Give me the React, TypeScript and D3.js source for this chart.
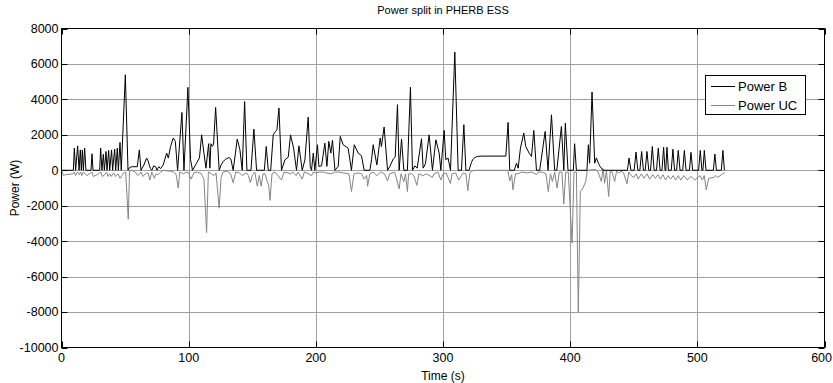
import * as d3 from 'd3';

// time (s), power (W)
const powerB: [number, number][] = [
  [0, 0], [9.3, 0], [10.1, 1250], [11.1, 0], [12.7, 1380], [13.8, 0], [14.8, 1150], [15.6, 0], [16.4, 1150], [17.2, 0],
  [18.2, 1250], [19.2, 0], [23.2, 0], [24, 930], [24.8, 0], [30, 0], [30.8, 1250], [31.8, 0], [32.9, 900], [33.7, 0],
  [35, 1060], [35.8, 0], [37.1, 1120], [37.9, 0], [39.4, 1150], [40.2, 0], [41.8, 1200], [42.6, 0], [43.9, 1250], [44.7, 0],
  [46, 1570], [47, 0], [50.2, 5390], [52.3, 0], [53.5, 150], [55.2, 200], [59.6, 200], [61.2, 1150], [62.5, 0], [64.8, 300],
  [66.9, 690], [68, 550], [69, 300], [70, 100], [71, 0], [72.5, 250], [74, 200], [75, 0], [76.5, 200], [78, 100],
  [80, 300], [82.7, 970], [84, 690], [85.8, 1350], [87.9, 1820], [89.5, 1630], [91.3, 0], [94.7, 3260], [96.3, 0], [99.4, 4680],
  [101.5, 600], [103, 0], [106.2, 400], [108.5, 700], [110.2, 2000], [112, 970], [113.6, 120], [115.7, 1500], [116.7, 120], [117.5, 1500],
  [118.6, 1350], [119.6, 1480], [121.2, 3550], [124, 0], [125.5, 300], [127.2, 500], [129, 620], [131.6, 720], [133.2, 630], [135, 0],
  [138.2, 1760], [140.3, 1160], [142.1, 0], [144, 3880], [145.8, 0], [149, 0], [151.3, 2320], [153.4, 0], [159.5, 0], [161, 1340],
  [162.6, 0], [164.5, 0], [166.5, 2000], [168.3, 2190], [169.4, 2290], [171, 3510], [173, 0], [175.7, 590], [178.3, 740], [180.1, 2000],
  [182.5, 1250], [184.8, 0], [186.7, 1380], [189.3, 0], [191.4, 590], [194, 3000], [195.6, 220], [196.6, 0], [198, 970], [199.2, 0],
  [201.3, 1440], [202.4, 220], [204.5, 250], [207.1, 1530], [208.7, 220], [210.2, 1630], [211.8, 970], [213.1, 1690], [215, 0], [217.6, 220],
  [219.2, 1910], [221.5, 1440], [225.4, 1250], [228, 0], [230.2, 1440], [233.3, 970], [235.9, 820], [238, 0], [242.5, 0], [243.8, 590],
  [245.1, 1440], [248, 300], [250.6, 1820], [251.6, 1340], [253.7, 2440], [256.4, 0], [258.2, 220], [260.8, 630], [262.4, 740], [264.2, 3700],
  [265.5, 0], [267.4, 1760], [269.2, 0], [272, 0], [274.4, 4690], [276, 0], [277.9, 250], [279.7, 120], [283.1, 1780], [284.4, 120],
  [286.2, 370], [289.1, 2000], [291.7, 0], [294.4, 1720], [297, 970], [298.3, 0], [300.9, 2250], [302.2, 590], [304, 690], [305.9, 0],
  [309.3, 6670], [311.9, 0], [314.5, 0], [316.4, 2570], [318, 0], [320.5, 0], [321.5, 250], [322.4, 450], [323.5, 620], [325, 720],
  [327, 780], [330, 800], [349.4, 800], [351.2, 2700], [352.5, 0], [356, 0], [357.8, 400], [359.1, 120], [360.9, 1250], [363.5, 2100],
  [365.1, 1340], [367.7, 970], [369.6, 780], [371.4, 2250], [373.5, 0], [376, 0], [377.4, 690], [380.3, 2190], [382.6, 0], [385.3, 3130],
  [387.8, 0], [389.5, 0], [393.1, 2470], [395, 0], [396.2, 2660], [398.3, 0], [402.5, 0], [403.5, 1500], [404.9, 0], [413.2, 0],
  [414.3, 1440], [415.3, 400], [417.2, 4410], [419.3, 400], [420.6, 700], [422.2, 400], [423.2, 250], [425.8, 0], [445, 0], [446.3, 690],
  [447.8, 0], [450.3, 0], [451.8, 1030], [453.2, 0], [454.8, 0], [456.2, 1060], [457.6, 0], [459, 0], [460.4, 1060], [461.8, 0],
  [463.2, 0], [464.6, 1340], [466, 0], [467.9, 0], [469.3, 1250], [470.7, 0], [472.2, 0], [473.5, 1300], [474.6, 0], [475.2, 0],
  [476.1, 1300], [477.3, 0], [479.5, 0], [480.8, 1190], [482.1, 0], [483.7, 0], [485, 1120], [486.4, 0], [488.5, 0], [489.8, 1120],
  [491.1, 0], [493.8, 0], [495, 1010], [496.3, 0], [501, 0], [502.3, 1120], [503.6, 0], [504.4, 0], [505.5, 1120], [506.8, 0],
  [512.6, 0], [513.8, 910], [515, 0], [518.9, 0], [520.1, 1120], [521.3, 0],
];

const powerUC: [number, number][] = [
  [0, 0], [1.5, -300], [3, -250], [9, -200], [10, -100], [11, -300], [12.5, -100], [14, -250], [15, -100], [16, -300],
  [17, -100], [18.5, -200], [20, -300], [24, -100], [25, -350], [28, -250], [31, -100], [32, -350], [34, -250], [35.5, -100],
  [36.5, -350], [38, -200], [39, -350], [41, -150], [42.5, -350], [44.5, -200], [46, -450], [47.5, -300], [49, -150], [50.5, -100],
  [52.5, -2760], [53.5, -50], [55, 0], [58, -100], [60, -300], [62.5, -100], [64, -350], [66, -200], [68, -150], [69.5, -550],
  [71, -100], [73, -450], [74.5, -200], [76, -250], [78, -100], [80, 0], [85, -50], [88, -100], [90, -200], [91.8, -1000],
  [93, -100], [96, -200], [98, -100], [100, -150], [102, -500], [104, -150], [107, -100], [110, -200], [112, -500], [114.1, -3510],
  [115.5, -100], [118, -200], [120, -300], [121.5, -150], [124, -2140], [125.5, -400], [127, -100], [130, -50], [133, -200], [135, -700],
  [137, -100], [140, -150], [142, -300], [145.5, -150], [147, -300], [148.5, -700], [150, -300], [152, -100], [154, -900], [155.5, -300],
  [157, -900], [158.5, -200], [160, -200], [163, -900], [164, -1700], [165.5, -200], [168, -100], [173, -550], [175, -100], [178, -150],
  [180, -200], [182, -100], [184.5, -300], [186, -100], [189.3, -500], [191, -100], [193, -150], [196.6, -300], [198, -100], [200, -150],
  [203, -100], [206, -100], [208, -150], [212, -200], [215, -100], [218, -100], [222, -150], [226, -200], [228, -1200], [230, -200],
  [233, -150], [236, -200], [238, -500], [240, -300], [240.7, -900], [242.5, -200], [245, -100], [248, -300], [251, -100], [254, -200],
  [256.4, -600], [258, -200], [262, -100], [265.5, -1050], [267, -200], [269.2, -650], [270.5, -200], [272, -1200], [273, -200], [275.5, -200],
  [277, -300], [279.5, -850], [281, -200], [284.4, -300], [287, -200], [291.7, -400], [293, -200], [296, -100], [298.3, -550], [300, -200],
  [302.5, -150], [305.9, -750], [307, -200], [310, -150], [312.4, -550], [314.5, -300], [316, -150], [318, -200], [319.5, -1150], [321, -200],
  [322.4, -50], [325, 0], [351, 0], [352.5, -600], [354, -250], [355, -1100], [357, -200], [359, -200], [362, -100], [366, -150],
  [370, -100], [373.5, -250], [375, -100], [378, -100], [381, -200], [382.8, -1200], [384.5, -200], [386, -630], [387.8, -100], [389.7, -1000],
  [391.5, -100], [393.5, -100], [395, -1900], [396.5, -100], [398.5, -100], [401.5, -4110], [403, -100], [404.9, -100], [406.4, -8030], [408, -1200],
  [410.1, -1000], [412.2, -630], [413.5, 0], [420, 50], [422, -100], [424.5, -630], [425.8, 100], [427.1, -730], [428.5, 0], [430.3, -1480],
  [431.5, -50], [433, -100], [435, -630], [436.5, -50], [438.4, -160], [440, -50], [442, -150], [444.7, -760], [446, -100], [448, -300],
  [450, -400], [452, -200], [453.5, -500], [456, -200], [458, -450], [460.5, -200], [462.5, -500], [465, -250], [467, -450], [469, -250],
  [471, -500], [473, -250], [475, -550], [477, -300], [479, -500], [481, -300], [483, -550], [485, -300], [487, -550], [489.5, -300],
  [492, -550], [495, -350], [498, -550], [502, -300], [504, -550], [505.5, -300], [507, -1100], [509, -450], [513, -400], [514.5, -300],
  [516, -400], [520, -200], [521.5, -150],
];

const xTicks = [0, 100, 200, 300, 400, 500, 600];
const yTicks = [-10000, -8000, -6000, -4000, -2000, 0, 2000, 4000, 6000, 8000];
const legendLabels = ['Power B', 'Power UC'];
const seriesColors = ['#000000', '#858585'];

const W = 833;
const H = 383;
const left = 61.5, right = 824.5, top = 28.5, bottom = 347.5;
const font = '"Liberation Sans", Arial, sans-serif';

export default function App() {
  const x = d3.scaleLinear().domain([0, 600]).range([left, right]);
  const y = d3.scaleLinear().domain([-10000, 8000]).range([bottom, top]);
  const line = d3.line<[number, number]>().x(d => x(d[0])).y(d => y(d[1]));
  const tl = 6;

  return (
    <svg width={W} height={H} style={{ position: 'absolute', left: 0, top: 0, background: '#fff' }} fontFamily={font}>
      <rect x={0} y={0} width={W} height={H} fill="#fff" />
      {/* grid */}
      <g stroke="#a0a0a0" strokeWidth={1}>
        {yTicks.slice(1, -1).map(t => (
          <line key={'gy' + t} x1={left} x2={right} y1={Math.round(y(t)) + 0.5} y2={Math.round(y(t)) + 0.5} />
        ))}
        {xTicks.slice(1, -1).map(t => (
          <line key={'gx' + t} x1={Math.round(x(t)) + 0.5} x2={Math.round(x(t)) + 0.5} y1={top} y2={bottom} />
        ))}
      </g>
      {/* series: UC first so B sits on top */}
      <path d={line(powerUC) || ''} fill="none" stroke={seriesColors[1]} strokeWidth={1} />
      <path d={line(powerB) || ''} fill="none" stroke={seriesColors[0]} strokeWidth={1} />
      {/* ticks */}
      <g stroke="#000" strokeWidth={1}>
        {yTicks.map(t => {
          const yy = Math.round(y(t)) + 0.5;
          return (
            <g key={'ty' + t}>
              <line x1={left} x2={left + tl} y1={yy} y2={yy} />
              <line x1={right} x2={right - tl} y1={yy} y2={yy} />
            </g>
          );
        })}
        {xTicks.map(t => {
          const xx = Math.round(x(t)) + 0.5;
          return (
            <g key={'tx' + t}>
              <line x1={xx} x2={xx} y1={bottom} y2={bottom - tl} />
              <line x1={xx} x2={xx} y1={top} y2={top + tl} />
            </g>
          );
        })}
      </g>
      <rect x={left} y={top} width={right - left} height={bottom - top} fill="none" stroke="#000" strokeWidth={1} />
      {/* tick labels */}
      <g fontSize={12.5} fill="#000">
        {yTicks.map(t => (
          <text key={'ly' + t} x={left - 3} y={y(t)} dy="0.35em" textAnchor="end">{t}</text>
        ))}
        {xTicks.map((t, i) => {
          const last = i === xTicks.length - 1;
          return (
            <text key={'lx' + t} x={last ? W - 1 : x(t)} y={358} dy="0.35em" textAnchor={last ? 'end' : 'middle'}>{t}</text>
          );
        })}
      </g>
      <text x={(left + right) / 2} y={14} fontSize={11} textAnchor="middle">Power split in PHERB ESS</text>
      <text x={(left + right) / 2} y={380} fontSize={12} textAnchor="middle">Time (s)</text>
      <text transform={`translate(19,${(top + bottom) / 2}) rotate(-90)`} fontSize={12} textAnchor="middle">Power (W)</text>
      {/* legend */}
      <g>
        <rect x={705.5} y={75.5} width={100} height={39} fill="#fff" stroke="#000" strokeWidth={1} />
        {legendLabels.map((lab, i) => (
          <g key={lab}>
            <line x1={711} x2={735} y1={86.5 + i * 19} y2={86.5 + i * 19} stroke={seriesColors[i]} strokeWidth={1} />
            <text x={738} y={86.5 + i * 19} dy="0.35em" fontSize={13}>{lab}</text>
          </g>
        ))}
      </g>
    </svg>
  );
}
